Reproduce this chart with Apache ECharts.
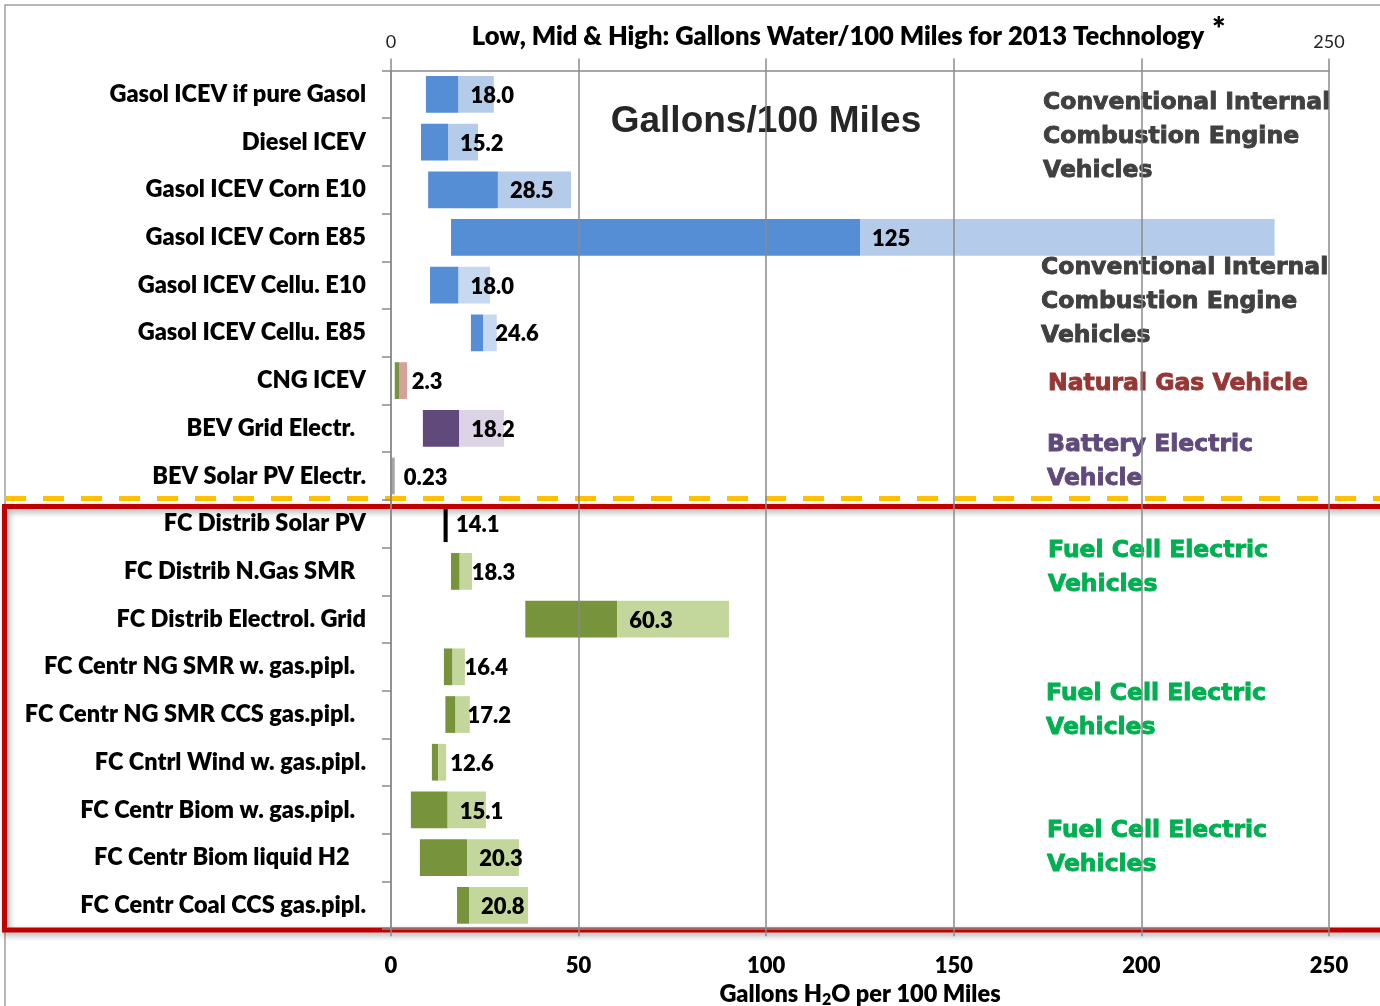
<!DOCTYPE html>
<html>
<head>
<meta charset="utf-8">
<script src="https://cdn.jsdelivr.net/npm/echarts@6/dist/echarts.min.js"></script>
<style>
html,body{margin:0;padding:0;background:#fff;}
#chart{width:1380px;height:1006px;}
</style>
</head>
<body>
<div id="chart"></div>
<script>
// ---------- DATA ----------
const categories = [
  'Gasol ICEV if pure Gasol',
  'Diesel ICEV',
  'Gasol ICEV Corn E10',
  'Gasol ICEV Corn E85',
  'Gasol ICEV Cellu. E10',
  'Gasol ICEV Cellu. E85',
  'CNG ICEV',
  'BEV Grid Electr.  ',
  'BEV Solar PV Electr.',
  'FC Distrib Solar PV',
  'FC Distrib N.Gas SMR  ',
  'FC Distrib Electrol. Grid',
  'FC Centr NG SMR w. gas.pipl.  ',
  'FC Centr NG SMR CCS gas.pipl.  ',
  'FC Cntrl Wind w. gas.pipl.',
  'FC Centr Biom w. gas.pipl.  ',
  'FC Centr Biom liquid H2   ',
  'FC Centr Coal CCS gas.pipl.'
];
const lowValues  = [9.3, 8.0, 9.9, 16.0, 10.4, 21.3, 1.0, 8.5, 0, 14.0, 16.0, 35.8, 14.1, 14.5, 10.9, 5.3, 7.7, 17.6];
const midValues  = [18.0, 15.2, 28.5, 125, 18.0, 24.6, 2.3, 18.2, 0.23, 14.1, 18.3, 60.3, 16.4, 17.2, 12.6, 15.1, 20.3, 20.8];
const highValues = [27.4, 23.2, 48.0, 235.5, 26.4, 28.2, 4.3, 30.1, 1.0, 15.1, 21.6, 90.1, 19.7, 21.0, 14.7, 25.3, 34.1, 36.5];
const axisTicks = [0, 50, 100, 150, 200, 250];

// ---------- STYLE ----------
const ICE = ['#558ED5', '#B4CCEA'];
const ICE2 = ['#558ED5', '#C6D9F1'];
const CNG = ['#77933C', '#D4A19D'];
const BEV = ['#604A7B', '#DDD3E7'];
const PV = ['#A6A6A6', '#A6A6A6'];
const BLK = ['#000000', '#000000'];
const FC = ['#77933C', '#C3D69B'];
const rowColors = [ICE, ICE, ICE, ICE, ICE2, ICE2, CNG, BEV, PV, BLK, FC, FC, FC, FC, FC, FC, FC, FC];

const fmt = v => v >= 100 ? v.toFixed(0) : (v < 1 ? v.toFixed(2) : v.toFixed(1));

const baseData = lowValues.map(v => v);
const darkData = midValues.map((m, i) => ({
  value: +(m - lowValues[i]).toFixed(3),
  itemStyle: { color: rowColors[i][0] }
}));
const lightData = highValues.map((h, i) => ({
  value: +(h - midValues[i]).toFixed(3),
  itemStyle: { color: rowColors[i][1] }
}));

const gridColor = '#8A8A8A';
const calibri = 'Lato';
const heavyW = 800;
const heavy = '"DejaVu Sans"';

function annot(x, yFirstCenter, text, color) {
  return {
    type: 'text', x: x, y: yFirstCenter - 17, z: 1,
    style: {
      text: text, font: 'bold 23.5px ' + heavy, fill: color,
      stroke: color, lineWidth: 0.9,
      lineHeight: 34, textAlign: 'left', textVerticalAlign: 'top'
    }
  };
}

const chart = echarts.init(document.getElementById('chart'), null, { renderer: 'canvas' });
const option = {
  animation: false,
  backgroundColor: '#ffffff',
  grid: { left: 391, right: 51, top: 70.5, bottom: 76.8, containLabel: false, outerBoundsMode: 'none' },
  xAxis: [
    {
      type: 'value', min: axisTicks[0], max: axisTicks[axisTicks.length - 1], interval: 50,
      position: 'bottom', z: 10,
      axisLine: { show: true, lineStyle: { color: gridColor, width: 1.5 } },
      axisTick: { show: true, length: 7, lineStyle: { color: gridColor, width: 1.5 } },
      splitLine: { show: true, lineStyle: { color: gridColor, width: 1.5 } },
      axisLabel: { fontFamily: calibri, fontWeight: heavyW, fontSize: 22, color: '#000', margin: 26 },
      name: '{a|Gallons H}{s|2}{a|O per 100 Miles}',
      nameLocation: 'middle', nameGap: 49,
      nameTextStyle: {
        rich: {
          a: { fontFamily: calibri, fontWeight: heavyW, fontSize: 23.5, color: '#000', lineHeight: 28, verticalAlign: 'middle' },
          s: { fontFamily: calibri, fontWeight: heavyW, fontSize: 16, color: '#000', lineHeight: 28, verticalAlign: 'bottom' }
        }
      }
    },
    {
      type: 'value', min: axisTicks[0], max: axisTicks[axisTicks.length - 1], interval: 50,
      position: 'top', z: 10,
      axisLine: { show: true, lineStyle: { color: gridColor, width: 1.5 } },
      axisTick: { show: true, length: 12, lineStyle: { color: gridColor, width: 1.5 } },
      splitLine: { show: false },
      axisLabel: {
        fontFamily: calibri, fontSize: 18, color: '#222', margin: 19,
        formatter: v => (v === axisTicks[0] || v === axisTicks[axisTicks.length - 1]) ? String(v) : ''
      }
    }
  ],
  yAxis: {
    type: 'category', data: categories, inverse: true, z: 10,
    axisLine: { show: true, lineStyle: { color: gridColor, width: 1.5 } },
    axisTick: { show: true, length: 9, lineStyle: { color: gridColor, width: 1.5 } },
    axisLabel: { fontFamily: calibri, fontWeight: heavyW, fontSize: 23.5, color: '#000', margin: 25, padding: [4, 0, 0, 0] }
  },
  series: [
    { name: 'base', type: 'bar', stack: 'r', data: baseData, barCategoryGap: '23%',
      itemStyle: { color: 'rgba(0,0,0,0)' }, silent: true },
    { name: 'Low to Mid', type: 'bar', stack: 'r', data: darkData, barCategoryGap: '23%' },
    { name: 'Mid to High', type: 'bar', stack: 'r', data: lightData, barCategoryGap: '23%',
      label: {
        show: true, position: 'insideLeft', distance: 12, offset: [0, 1.5],
        fontFamily: calibri, fontWeight: heavyW, fontSize: 22, color: '#000',
        formatter: p => fmt(midValues[p.dataIndex])
      }
    }
  ],
  graphic: [
    { type: 'rect', z: 0, shape: { x: 5, y: 5, width: 1500, height: 1200 },
      style: { fill: 'none', stroke: '#A0A0A0', lineWidth: 1.5 } },
    { type: 'text', x: 838, y: 37, z: 1,
      style: { text: 'Low, Mid & High: Gallons Water/100 Miles for 2013 Technology',
        font: heavyW + ' 25.5px ' + calibri, fill: '#000', textAlign: 'center', textVerticalAlign: 'middle' } },
    { type: 'text', x: 1212, y: 30, z: 1,
      style: { text: '*', font: heavyW + ' 32px ' + calibri, fill: '#000', textAlign: 'left', textVerticalAlign: 'middle' } },
    { type: 'text', x: 766, y: 122, z: 1,
      style: { text: 'Gallons/100 Miles', font: 'bold 37px "Liberation Sans"', fill: '#262626',
        textAlign: 'center', textVerticalAlign: 'middle' } },
    annot(1043, 103, 'Conventional Internal\nCombustion Engine\nVehicles', '#404040'),
    annot(1041, 268, 'Conventional Internal\nCombustion Engine\nVehicles', '#404040'),
    annot(1048, 383.5, 'Natural Gas Vehicle', '#953735'),
    annot(1047, 445, 'Battery Electric\nVehicle', '#604A7B'),
    annot(1048, 550.5, 'Fuel Cell Electric\nVehicles', '#00B050'),
    annot(1046, 694, 'Fuel Cell Electric\nVehicles', '#00B050'),
    annot(1047, 830.5, 'Fuel Cell Electric\nVehicles', '#00B050'),
    { type: 'line', z: 5, shape: { x1: 0, y1: 498.5, x2: 1380, y2: 498.5 },
      style: { stroke: '#FFC000', lineWidth: 5, lineDash: [21, 17], lineDashOffset: -5 } },
    { type: 'rect', z: 5, shape: { x: 4.5, y: 506.5, width: 1420, height: 423.5 },
      style: { fill: 'none', stroke: '#C00000', lineWidth: 5,
        shadowBlur: 6, shadowColor: 'rgba(0,0,0,0.35)', shadowOffsetX: 2, shadowOffsetY: 3 } }
  ]
};
chart.setOption(option);
</script>
</body>
</html>
